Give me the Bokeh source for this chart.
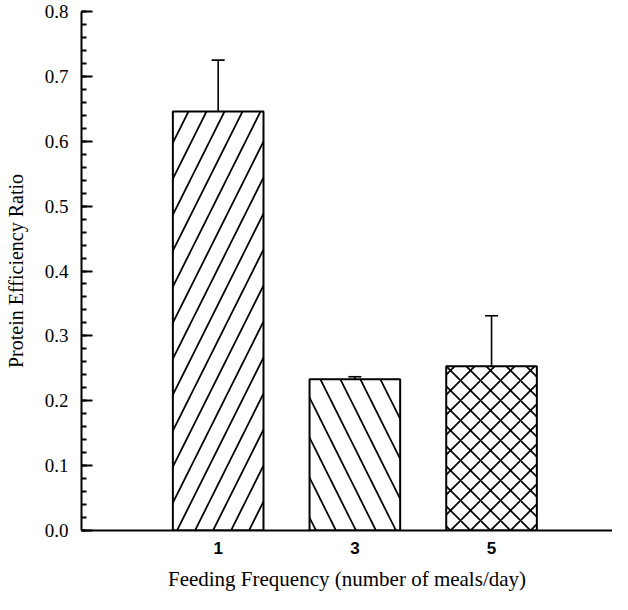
from bokeh.plotting import figure
from bokeh.models import ColumnDataSource, SingleIntervalTicker, FixedTicker, PrintfTickFormatter, Whisker, TeeHead, Range1d
from bokeh.embed import file_html
from bokeh.resources import INLINE

categories = ["1", "3", "5"]
values = [0.646, 0.233, 0.253]
errors = [0.079, 0.004, 0.078]
hatches = ["/", "\\", "x"]
hatch_scales = [36, 40, 20]

xs = [i + 1 for i in range(len(categories))]
src = ColumnDataSource(dict(
    x=xs, top=values, upper=[v + e for v, e in zip(values, errors)],
    hatch=hatches, hscale=hatch_scales,
))

p = figure(width=612, height=594, output_backend="svg", toolbar_location=None,
           x_range=Range1d(0.0, 3.885), y_range=Range1d(0.0, 0.8),
           min_border_left=81, min_border_right=0, min_border_top=11, min_border_bottom=64)
p.outline_line_color = None
p.xgrid.visible = False
p.ygrid.visible = False
p.background_fill_color = "white"

p.vbar(x="x", top="top", width=0.663, bottom=0, source=src,
       fill_color="white", line_color="black", line_width=2,
       hatch_pattern="hatch", hatch_scale="hscale", hatch_color="black", hatch_weight=1.7)

w = Whisker(base="x", upper="upper", lower="top", source=src, dimension="height",
            line_color="black", line_width=1.6,
            upper_head=TeeHead(size=13, line_color="black", line_width=1.6),
            lower_head=None)
p.add_layout(w)

serif = "Liberation Serif"
sans = "Liberation Sans"

# x axis
p.xaxis.ticker = FixedTicker(ticks=xs)
p.xaxis.major_label_overrides = {x: c for x, c in zip(xs, categories)}
p.xaxis.major_tick_line_color = None
p.xaxis.minor_tick_line_color = None
p.xaxis.major_tick_in = 0
p.xaxis.major_tick_out = 0
p.xaxis.minor_tick_in = 0
p.xaxis.minor_tick_out = 0
p.xaxis.axis_line_width = 2
p.xaxis.axis_line_color = "black"
p.xaxis.major_label_text_font = sans
p.xaxis.major_label_text_font_style = "bold"
p.xaxis.major_label_text_font_size = "17px"
p.xaxis.major_label_text_color = "black"
p.xaxis.major_label_standoff = 11
p.xaxis.axis_label = "Feeding Frequency (number of meals/day)"
p.xaxis.axis_label_text_font = serif
p.xaxis.axis_label_text_font_style = "normal"
p.xaxis.axis_label_text_font_size = "21px"
p.xaxis.axis_label_text_color = "black"
p.xaxis.axis_label_standoff = 10

# y axis
p.yaxis.ticker = SingleIntervalTicker(interval=0.1, num_minor_ticks=5)
p.yaxis.formatter = PrintfTickFormatter(format="%.1f")
p.yaxis.axis_line_width = 2
p.yaxis.axis_line_color = "black"
p.yaxis.major_tick_in = 11
p.yaxis.major_tick_out = 0
p.yaxis.minor_tick_in = 5
p.yaxis.minor_tick_out = 0
p.yaxis.major_tick_line_width = 2
p.yaxis.minor_tick_line_width = 2
p.yaxis.major_tick_line_color = "black"
p.yaxis.minor_tick_line_color = "black"
p.yaxis.major_label_text_font = serif
p.yaxis.major_label_text_font_size = "19px"
p.yaxis.major_label_text_color = "black"
p.yaxis.major_label_standoff = 13
p.yaxis.axis_label = "Protein Efficiency Ratio"
p.yaxis.axis_label_text_font = serif
p.yaxis.axis_label_text_font_style = "normal"
p.yaxis.axis_label_text_font_size = "20px"
p.yaxis.axis_label_text_color = "black"
p.yaxis.axis_label_standoff = 15

open("out.html", "w").write(file_html(p, INLINE))
